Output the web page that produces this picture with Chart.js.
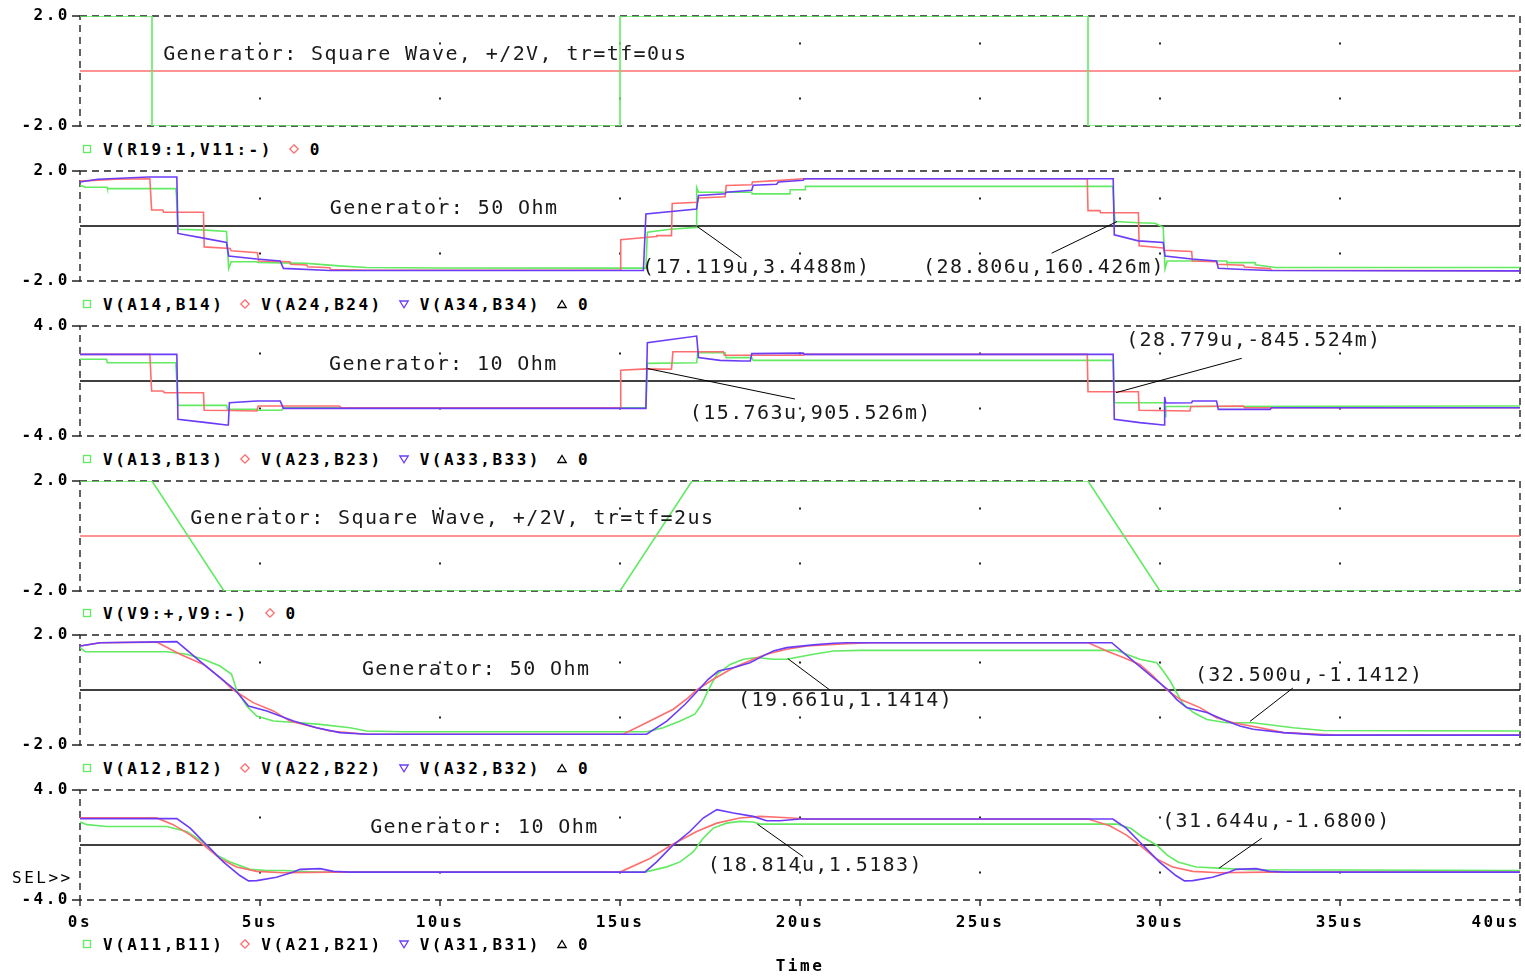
<!DOCTYPE html>
<html>
<head>
<meta charset="utf-8">
<title>Line termination transient</title>
<script src="https://cdn.jsdelivr.net/npm/chart.js@4.4.1/dist/chart.umd.min.js"></script>
<style>
  html, body { margin: 0; padding: 0; background: #fff; }
  #stage { position: relative; width: 1525px; height: 976px; overflow: hidden; }
  .chartbox { position: absolute; left: 0; width: 1525px; }
  .legend { position: absolute; left: 81px; height: 20px; display: flex; align-items: center; z-index: 2;
            font: bold 16px "DejaVu Sans Mono", monospace; letter-spacing: 2.5px; color: #000; white-space: pre; }
  .legend svg { margin-right: 10px; flex: none; }
  .legend span { margin-right: 15px; }
  .tag { position: absolute; z-index: 2; font: 16px "DejaVu Sans Mono", monospace; letter-spacing: 2.5px; color: #000; }
</style>
</head>
<body>
<div id="stage">
  <div class="tag" style="left:12px; top:868px;">SEL&gt;&gt;</div>
</div>
<script>
// 颜色
const GREEN = '#62ea62', RED = '#ff6e6e', BLUE = '#6b3cf7', BLACK = '#000';

// 时间轴 (us)
const timeTicks = [0, 5, 10, 15, 20, 25, 30, 35, 40];
const timeTickLabels = ['0s', '5us', '10us', '15us', '20us', '25us', '30us', '35us', '40us'];

/* ---------- 数据: [time us, volts] ---------- */
const zeroTrace = [[0, 0], [40, 0]];

// generator, tr=tf=0us
const vR19 = [[0,2],[2,2],[2,-2],[15,-2],[15,2],[28,2],[28,-2],[40,-2]];
// generator, tr=tf=2us
const vV9 = [[0,2],[2,2],[4,-2],[15,-2],[17,2],[28,2],[30,-2],[40,-2]];

// 50 Ohm, tr=tf=0
const vA14 = [[0,1.48],[0.15,1.41],[0.75,1.41],[0.76,1.36],[2.66,1.36],[2.68,1.1],[2.72,-0.12],[3.5,-0.15],[4.07,-0.2],[4.13,-1.55],
  [4.2,-1.3],[4.9,-1.3],[4.95,-1.33],[6.3,-1.36],[7.2,-1.45],[7.96,-1.51],[10,-1.53],[15.72,-1.53],[15.76,-0.23],[16.4,-0.12],
  [17.12,-0.05],[17.13,1.4],[17.18,1.23],[18.66,1.23],[18.67,1.17],[19.72,1.17],[19.73,1.32],[20.14,1.32],[20.15,1.44],[28.69,1.44],
  [28.72,0.7],[28.75,0.16],[29.4,0.12],[29.86,0.1],[30.09,-0.05],[30.14,-1.55],[30.2,-1.27],[31.85,-1.27],[31.86,-1.33],[32.64,-1.33],
  [32.65,-1.41],[33.2,-1.51],[40,-1.51]];
const vA24 = [[0,1.63],[1,1.7],[1.94,1.72],[1.99,0.58],[2.3,0.58],[2.32,0.5],[3.43,0.5],[3.45,-0.76],[4.17,-0.82],[4.2,-0.9],
  [4.93,-0.97],[4.96,-1.27],[5.83,-1.3],[5.85,-1.39],[6.3,-1.42],[6.32,-1.48],[6.94,-1.52],[6.96,-1.58],[8,-1.61],[15,-1.61],
  [15.02,-0.5],[16,-0.38],[16.02,-0.35],[16.43,-0.35],[16.45,0.82],[17.15,0.86],[17.18,1.02],[17.92,1.06],[17.95,1.47],[18.66,1.5],
  [18.68,1.6],[19.35,1.65],[20.1,1.72],[27.98,1.72],[28,0.56],[28.33,0.56],[28.35,0.48],[29.4,0.48],[29.42,-0.72],[30.09,-0.8],
  [30.11,-0.88],[30.88,-0.93],[30.9,-1.27],[31.57,-1.3],[31.6,-1.39],[32.32,-1.43],[32.35,-1.49],[33.06,-1.55],[33.1,-1.61],[40,-1.63]];
const vA34 = [[0,1.6],[0.5,1.7],[1.9,1.78],[2.69,1.78],[2.72,-0.27],[3.43,-0.44],[4.07,-0.6],[4.13,-1.09],[4.91,-1.2],[5.56,-1.27],
  [5.65,-1.54],[6.94,-1.62],[15.65,-1.62],[15.72,0.44],[17.13,0.62],[17.18,1.11],[17.92,1.17],[17.95,1.23],[18.66,1.3],[18.7,1.48],
  [19.35,1.52],[19.4,1.6],[20.09,1.66],[20.12,1.72],[28.7,1.72],[28.73,-0.32],[29.4,-0.54],[30.09,-0.6],[30.14,-1.09],[30.88,-1.2],
  [31.57,-1.27],[31.62,-1.54],[32.32,-1.58],[33.06,-1.62],[40,-1.63]];

// 10 Ohm, tr=tf=0
const vA13 = [[0,1.58],[0.74,1.58],[0.76,1.33],[2.66,1.33],[2.68,0.5],[2.72,-1.77],[4.07,-1.77],[4.1,-2.06],[4.91,-2.06],[4.93,-2.13],
  [5.6,-2.13],[5.65,-1.94],[15.72,-1.94],[15.76,1.28],[17.13,1.33],[17.16,2.06],[17.92,2.06],[17.95,1.7],[18.66,1.7],[18.7,1.5],
  [28.7,1.5],[28.73,-1.58],[30.12,-1.58],[30.14,-2.6],[30.16,-1.85],[40,-1.82]];
const vA23 = [[0,1.94],[1.94,1.94],[1.99,-0.73],[2.3,-0.73],[2.35,-0.85],[3.43,-0.85],[3.45,-2.13],[4.17,-2.15],[4.91,-2.18],[4.95,-1.82],
  [7.2,-1.82],[7.25,-1.94],[15,-1.94],[15.02,0.78],[15.74,0.88],[16.43,0.85],[16.47,2.13],[17.87,2.13],[17.9,1.87],[20.09,1.87],
  [20.12,1.94],[27.98,1.94],[28,-0.78],[29.4,-0.78],[29.42,-2.13],[30.83,-2.18],[30.86,-1.85],[32.32,-1.82],[32.35,-1.94],[40,-1.94]];
const vA33 = [[0,1.94],[2.69,1.94],[2.72,-2.79],[3.52,-3.03],[4.07,-3.2],[4.12,-3.2],[4.15,-1.58],[4.91,-1.45],[5.56,-1.45],[5.65,-1.99],
  [15.72,-1.99],[15.76,2.79],[17.13,3.27],[17.18,1.7],[17.78,1.5],[18.4,1.45],[18.62,1.45],[18.66,1.99],[20.09,2.03],[20.12,1.94],
  [28.7,1.94],[28.73,-2.79],[29.44,-3.03],[30.09,-3.2],[30.12,-3.2],[30.13,-1.16],[30.16,-1.6],[30.88,-1.58],[30.9,-1.45],[31.57,-1.45],
  [31.62,-2.06],[33.06,-2.06],[33.1,-1.94],[40,-1.94]];

// 50 Ohm, tr=tf=2us
const vA12 = [[0,1.54],[0.15,1.39],[2.41,1.39],[2.96,1.3],[3.43,1.12],[3.89,0.87],[4.21,0.57],[4.35,0],[4.63,-0.58],[4.91,-0.95],
  [5.37,-1.13],[6.11,-1.19],[6.67,-1.25],[7.5,-1.37],[7.96,-1.49],[9,-1.52],[15.74,-1.52],[16.2,-1.37],[16.67,-1.13],[17.08,-0.88],
  [17.27,-0.52],[17.45,0],[17.69,0.57],[18.06,0.93],[18.43,1.12],[18.8,1.18],[19.26,1.12],[19.63,1.12],[20.37,1.3],[20.93,1.42],
  [21.67,1.44],[28.8,1.44],[29.07,1.3],[29.44,1.12],[29.91,0.99],[30.09,0.69],[30.28,0.33],[30.42,0],[30.65,-0.52],[30.93,-0.82],
  [31.3,-1.07],[31.85,-1.19],[32.59,-1.19],[33.7,-1.37],[34.54,-1.47],[40,-1.49]];
const vA22 = [[0,1.6],[0.56,1.72],[2.13,1.74],[2.78,1.3],[3.43,0.93],[3.89,0.45],[4.26,0],[4.81,-0.46],[5.37,-0.76],[5.83,-1.13],
  [6.57,-1.37],[6.94,-1.49],[7.96,-1.61],[15.09,-1.61],[15.83,-1.13],[16.48,-0.7],[16.9,-0.28],[17.13,0],[17.59,0.39],[18.15,0.81],
  [18.7,1.12],[19.07,1.3],[19.63,1.48],[20.19,1.6],[21.3,1.68],[22,1.72],[28.01,1.72],[28.52,1.42],[28.98,1.18],[29.44,0.93],
  [29.81,0.51],[30.19,0],[30.56,-0.34],[31.11,-0.64],[31.57,-1.01],[32.04,-1.19],[32.78,-1.37],[33.43,-1.55],[34.44,-1.61],[35,-1.64],[40,-1.64]];
const vA32 = [[0,1.6],[0.56,1.72],[2.69,1.76],[3.33,1.05],[3.89,0.45],[4.31,0],[4.68,-0.58],[5.19,-0.76],[5.93,-1.13],[6.57,-1.37],
  [7.22,-1.55],[7.96,-1.61],[15.74,-1.61],[16.3,-1.13],[16.81,-0.52],[17.18,0],[17.45,0.39],[17.73,0.69],[18.15,0.81],[18.61,0.99],
  [18.98,1.24],[19.26,1.42],[19.63,1.54],[20.37,1.64],[20.93,1.7],[21.3,1.72],[28.66,1.72],[29.26,1.05],[29.81,0.45],[30.23,0],
  [30.46,-0.34],[30.74,-0.64],[31.3,-0.82],[31.85,-1.13],[32.22,-1.31],[32.59,-1.43],[33.43,-1.55],[34.5,-1.64],[40,-1.64]];

// 10 Ohm, tr=tf=2us
const vA11 = [[0,1.67],[0.2,1.48],[0.74,1.35],[2.41,1.35],[2.96,0.99],[3.33,0.37],[3.52,0],[3.8,-0.74],[4.17,-1.23],[4.72,-1.77],
  [5.19,-1.85],[5.65,-1.85],[6.57,-1.97],[15.69,-1.97],[16.3,-1.59],[16.67,-1.23],[17.04,-0.49],[17.31,0.49],[17.59,1.23],[17.96,1.59],
  [18.33,1.72],[18.7,1.67],[18.89,1.52],[28.8,1.52],[29.2,1.2],[29.5,0.6],[29.9,0],[30.2,-0.74],[30.5,-1.23],[31,-1.6],
  [31.64,-1.68],[32.5,-1.8],[40,-1.85]];
const vA21 = [[0,1.97],[2.13,1.97],[2.59,1.48],[3.06,0.74],[3.43,0],[3.89,-0.99],[4.35,-1.6],[4.91,-1.92],[5.65,-2.02],[7,-1.97],
  [15,-1.97],[15.83,-0.98],[16.43,0],[17.13,0.98],[17.69,1.59],[18.33,1.96],[18.89,2.08],[19.54,2.0],[20.19,1.89],[28,1.89],
  [28.6,1.4],[29.06,0.74],[29.43,0],[29.89,-0.99],[30.35,-1.6],[30.91,-1.92],[31.65,-2.02],[33,-1.97],[40,-1.97]];
const vA31 = [[0,1.92],[2.69,1.92],[3.06,1.23],[3.52,0],[3.98,-1.23],[4.44,-2.22],[4.68,-2.61],[4.91,-2.59],[5.46,-2.34],[5.93,-1.97],
  [6.11,-1.77],[6.67,-1.72],[7.04,-1.92],[7.5,-1.97],[15.69,-1.97],[16.02,-1.23],[16.43,-0.12],[16.94,0.98],[17.31,1.96],[17.69,2.57],
  [18.15,2.33],[18.7,2.08],[19.07,1.76],[19.44,1.76],[20,1.89],[28.69,1.89],[29.06,1.23],[29.52,0],[29.98,-1.23],[30.44,-2.22],
  [30.68,-2.61],[30.91,-2.59],[31.46,-2.34],[31.93,-1.97],[32.11,-1.77],[32.67,-1.72],[33.04,-1.92],[33.5,-1.97],[40,-1.97]];

/* ---------- 面板布局 ---------- */
const panels = [
  { top: 16, yMax: 2, legendY: 149,
    series: [['V(R19:1,V11:-)', vR19, GREEN, 'sq'], ['0', zeroTrace, RED, 'dia']],
    caption: ['Generator: Square Wave, +/2V, tr=tf=0us', 2.31, 0.58], cursors: [] },
  { top: 171, yMax: 2, legendY: 304,
    series: [['V(A14,B14)', vA14, GREEN, 'sq'], ['V(A24,B24)', vA24, RED, 'dia'], ['V(A34,B34)', vA34, BLUE, 'down'], ['0', zeroTrace, BLACK, 'up']],
    caption: ['Generator: 50 Ohm', 6.94, 0.62],
    cursors: [{ text: '(17.119u,3.4488m)', at: [17.119, 0.0034488], end: [18.38, -1.17], pos: [15.61, -1.53] },
              { text: '(28.806u,160.426m)', at: [28.806, 0.160426], end: [26.99, -0.99], pos: [23.42, -1.53] }] },
  { top: 326, yMax: 4, legendY: 459,
    series: [['V(A13,B13)', vA13, GREEN, 'sq'], ['V(A23,B23)', vA23, RED, 'dia'], ['V(A33,B33)', vA33, BLUE, 'down'], ['0', zeroTrace, BLACK, 'up']],
    caption: ['Generator: 10 Ohm', 6.92, 1.16],
    cursors: [{ text: '(15.763u,905.526m)', at: [15.763, 0.905526], end: [19.86, -1.31], pos: [16.94, -2.4] },
              { text: '(28.779u,-845.524m)', at: [28.779, -0.845524], end: [32.27, 1.65], pos: [29.06, 2.91] }] },
  { top: 481, yMax: 2, legendY: 613,
    series: [['V(V9:+,V9:-)', vV9, GREEN, 'sq'], ['0', zeroTrace, RED, 'dia']],
    caption: ['Generator: Square Wave, +/2V, tr=tf=2us', 3.06, 0.62], cursors: [] },
  { top: 635, yMax: 2, legendY: 768,
    series: [['V(A12,B12)', vA12, GREEN, 'sq'], ['V(A22,B22)', vA22, RED, 'dia'], ['V(A32,B32)', vA32, BLUE, 'down'], ['0', zeroTrace, BLACK, 'up']],
    caption: ['Generator: 50 Ohm', 7.83, 0.73],
    cursors: [{ text: '(19.661u,1.1414)', at: [19.661, 1.1414], end: [20.83, 0], pos: [18.28, -0.4] },
              { text: '(32.500u,-1.1412)', at: [32.5, -1.1412], end: [33.69, 0.07], pos: [30.97, 0.51] }] },
  { top: 790, yMax: 4, legendY: 944,
    series: [['V(A11,B11)', vA11, GREEN, 'sq'], ['V(A21,B21)', vA21, RED, 'dia'], ['V(A31,B31)', vA31, BLUE, 'down'], ['0', zeroTrace, BLACK, 'up']],
    caption: ['Generator: 10 Ohm', 8.06, 1.24],
    cursors: [{ text: '(18.814u,1.5183)', at: [18.814, 1.5183], end: [20.09, -0.85], pos: [17.44, -1.53] },
              { text: '(31.644u,-1.6800)', at: [31.644, -1.68], end: [32.83, 0.5], pos: [30.06, 1.67] }] }
];

const MONO = '"DejaVu Sans Mono", monospace';
const BOLD = { family: MONO, size: 16, weight: 'bold' };

// 虚线框、网格点、注释文字
const scopeDeco = {
  id: 'scopeDeco',
  beforeLayout(chart) { chart.ctx.letterSpacing = '2.5px'; },
  beforeDraw(chart) { chart.ctx.letterSpacing = '2.5px'; },
  beforeDatasetsDraw(chart, args, opts) {
    const { ctx, chartArea: a, scales: { x, y } } = chart;
    ctx.save();
    ctx.strokeStyle = '#222';
    ctx.lineWidth = 1.4;
    ctx.setLineDash([7, 5]);
    ctx.strokeRect(a.left, a.top, a.width, a.height);
    ctx.setLineDash([]);
    ctx.beginPath();
    ctx.moveTo(a.left - 8, a.top); ctx.lineTo(a.left, a.top);
    ctx.moveTo(a.left - 8, a.bottom); ctx.lineTo(a.left, a.bottom);
    if (opts.xTicks) {
      timeTicks.forEach(t => { const px = x.getPixelForValue(t); ctx.moveTo(px, a.bottom); ctx.lineTo(px, a.bottom + 6); });
    }
    ctx.stroke();
    ctx.fillStyle = '#222';
    timeTicks.slice(1, -1).forEach(t => {
      y.ticks.forEach(tk => {
        if (tk.value === 0 || Math.abs(tk.value) === y.max) return;
        ctx.fillRect(x.getPixelForValue(t) - 1, y.getPixelForValue(tk.value) - 1, 2, 2);
      });
    });
    ctx.restore();
  },
  afterDatasetsDraw(chart, args, opts) {
    const { ctx, scales: { x, y } } = chart;
    ctx.save();
    ctx.font = '20px ' + MONO;
    ctx.letterSpacing = '1.4px';
    ctx.fillStyle = '#1a1a1a';
    ctx.textAlign = 'left';
    ctx.textBaseline = 'middle';
    const [cap, ct, cv] = opts.caption;
    ctx.fillText(cap, x.getPixelForValue(ct), y.getPixelForValue(cv));
    ctx.strokeStyle = '#000';
    ctx.lineWidth = 1;
    opts.cursors.forEach(c => {
      ctx.beginPath();
      ctx.moveTo(x.getPixelForValue(c.at[0]), y.getPixelForValue(c.at[1]));
      ctx.lineTo(x.getPixelForValue(c.end[0]), y.getPixelForValue(c.end[1]));
      ctx.stroke();
      ctx.fillText(c.text, x.getPixelForValue(c.pos[0]), y.getPixelForValue(c.pos[1]));
    });
    ctx.restore();
  }
};

const marker = (shape, color) => {
  const s = {
    sq: '<rect x="2.5" y="2.5" width="7" height="7"/>',
    dia: '<path d="M6 1.8 L10.2 6 L6 10.2 L1.8 6 Z"/>',
    down: '<path d="M1.8 3 L10.2 3 L6 9.8 Z"/>',
    up: '<path d="M6 2.5 L10.2 9.5 L1.8 9.5 Z"/>'
  }[shape];
  return `<svg width="12" height="12" viewBox="0 0 12 12" fill="none" stroke="${color}" stroke-width="1.3">${s}</svg>`;
};

const stage = document.getElementById('stage');

panels.forEach((p, i) => {
  const last = i === panels.length - 1;
  const boxTop = p.top - 12;
  const box = document.createElement('div');
  box.className = 'chartbox';
  box.style.top = boxTop + 'px';
  box.style.height = (last ? 976 - boxTop : 134) + 'px';
  const cv = document.createElement('canvas');
  box.appendChild(cv);
  stage.appendChild(box);

  const n = p.series.length;
  new Chart(cv, {
    type: 'line',
    data: {
      datasets: p.series.map(([label, pts, color], k) => ({
        label,
        data: pts,
        borderColor: color,
        borderWidth: color === BLACK ? 1.5 : 1.6,
        pointRadius: 0,
        tension: 0,
        fill: false,
        order: label === '0' ? 10 : n - k
      }))
    },
    options: {
      responsive: true,
      maintainAspectRatio: false,
      animation: false,
      events: [],
      layout: { padding: { top: 12, right: 5, bottom: last ? 0 : 12, left: 0 } },
      plugins: {
        legend: { display: false },
        tooltip: { enabled: false },
        scopeDeco: { caption: p.caption, cursors: p.cursors, xTicks: last }
      },
      scales: {
        x: {
          type: 'linear', min: 0, max: 40, display: last,
          grid: { display: false, drawTicks: false }, border: { display: false },
          ticks: {
            stepSize: 5, autoSkip: false, maxRotation: 0, padding: 13, font: BOLD, color: '#000',
            callback: (v, k) => k === timeTickLabels.length - 1 ? timeTickLabels[k] + '    ' : timeTickLabels[k]
          },
          title: { display: true, text: 'Time', font: BOLD, color: '#000', padding: { top: 0, bottom: 0 } },
          afterFit: s => {
            if (last) s.height = 976 - boxTop - 12 - 110;
            s.paddingLeft = 0;
            s.paddingRight = 0;
          }
        },
        y: {
          min: -p.yMax, max: p.yMax,
          grid: { display: false, drawTicks: false }, border: { display: false },
          ticks: {
            stepSize: p.yMax / 2, autoSkip: false, padding: 10, font: BOLD, color: '#000',
            callback: v => Math.abs(v) === p.yMax ? v.toFixed(1) : ''
          },
          afterFit: s => { s.width = 80; s.paddingTop = 0; s.paddingBottom = 0; }
        }
      }
    },
    plugins: [scopeDeco]
  });

  const lg = document.createElement('div');
  lg.className = 'legend';
  lg.style.top = (p.legendY - 10) + 'px';
  lg.innerHTML = p.series.map(([label, , color, shape]) => marker(shape, color) + `<span>${label}</span>`).join('');
  stage.appendChild(lg);
});
</script>
</body>
</html>
